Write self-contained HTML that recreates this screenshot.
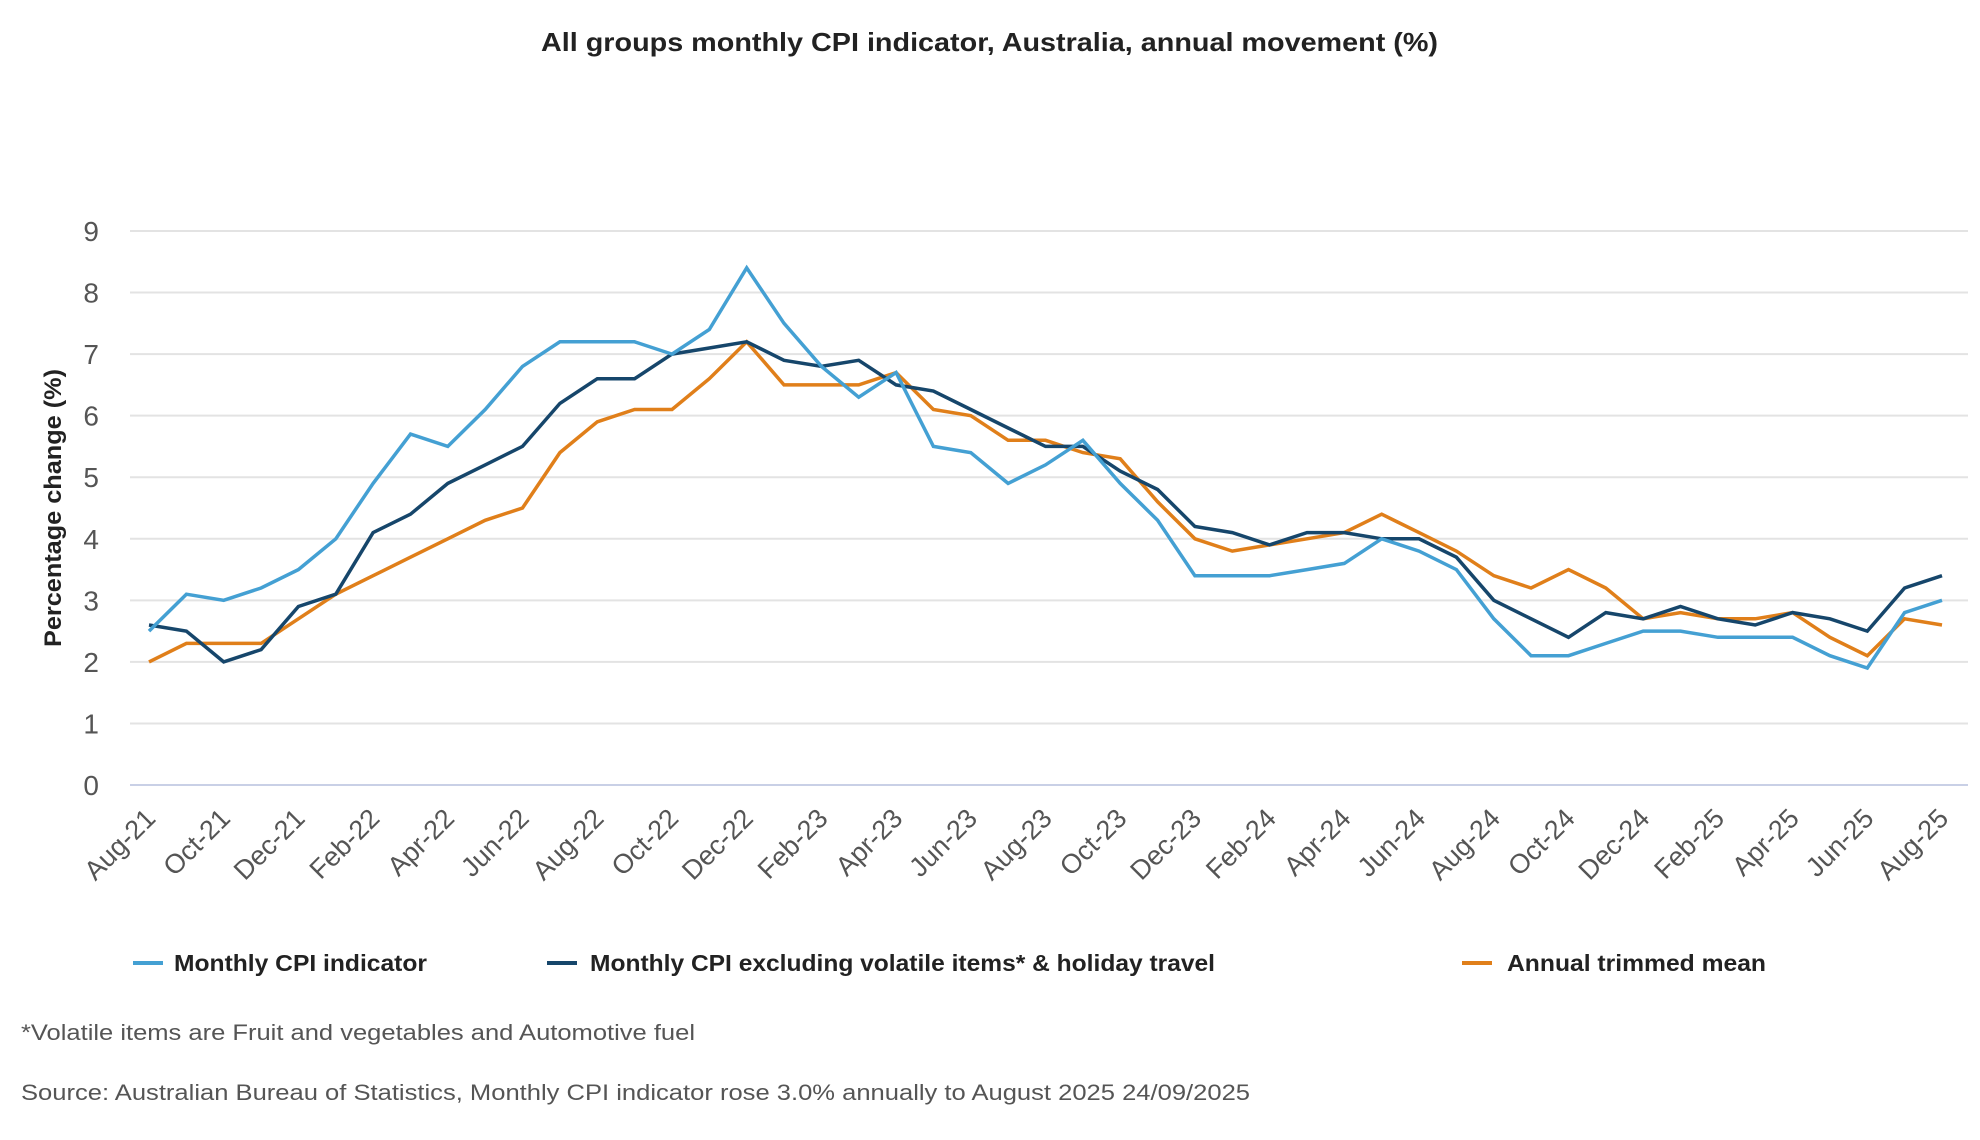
<!DOCTYPE html>
<html><head><meta charset="utf-8"><style>
html,body{margin:0;padding:0;background:#fff;}
svg{display:block;font-family:"Liberation Sans",sans-serif;}
</style></head><body>
<svg id="chart" width="1980" height="1140" viewBox="0 0 1980 1140" xmlns="http://www.w3.org/2000/svg">
<text x="541" y="51" font-size="26" font-weight="bold" fill="#222" textLength="897" lengthAdjust="spacingAndGlyphs">All groups monthly CPI indicator, Australia, annual movement (%)</text>
<g id="grid"></g>
<g id="yticks"></g>
<g id="xticks"></g>
<g id="lines"></g>
<text transform="translate(61,508) rotate(-90)" text-anchor="middle" font-size="24" font-weight="bold" fill="#222" textLength="278" lengthAdjust="spacingAndGlyphs">Percentage change (%)</text>
<g>
<g><rect x="133" y="961" width="30" height="4" fill="#44a0d3"/><text x="174" y="971" font-size="23" font-weight="bold" fill="#222" textLength="253" lengthAdjust="spacingAndGlyphs">Monthly CPI indicator</text></g>
<g><rect x="547" y="961" width="30" height="4" fill="#16466b"/><text x="590" y="971" font-size="23" font-weight="bold" fill="#222" textLength="625" lengthAdjust="spacingAndGlyphs">Monthly CPI excluding volatile items* &amp; holiday travel</text></g>
<g><rect x="1462" y="961" width="30" height="4" fill="#e07f1a"/><text x="1507" y="971" font-size="23" font-weight="bold" fill="#222" textLength="259" lengthAdjust="spacingAndGlyphs">Annual trimmed mean</text></g>
</g>
<text x="21" y="1040" font-size="22" fill="#555" textLength="674" lengthAdjust="spacingAndGlyphs">*Volatile items are Fruit and vegetables and Automotive fuel</text>
<text x="21" y="1100" font-size="22" fill="#555" textLength="1229" lengthAdjust="spacingAndGlyphs">Source: Australian Bureau of Statistics, Monthly CPI indicator rose 3.0% annually to August 2025 24/09/2025</text>
</svg>
<script>
const months = ["Aug-21","Sep-21","Oct-21","Nov-21","Dec-21","Jan-22","Feb-22","Mar-22","Apr-22","May-22","Jun-22","Jul-22","Aug-22","Sep-22","Oct-22","Nov-22","Dec-22","Jan-23","Feb-23","Mar-23","Apr-23","May-23","Jun-23","Jul-23","Aug-23","Sep-23","Oct-23","Nov-23","Dec-23","Jan-24","Feb-24","Mar-24","Apr-24","May-24","Jun-24","Jul-24","Aug-24","Sep-24","Oct-24","Nov-24","Dec-24","Jan-25","Feb-25","Mar-25","Apr-25","May-25","Jun-25","Jul-25","Aug-25"];
const monthlyCPI = [2.5,3.1,3.0,3.2,3.5,4.0,4.9,5.7,5.5,6.1,6.8,7.2,7.2,7.2,7.0,7.4,8.4,7.5,6.8,6.3,6.7,5.5,5.4,4.9,5.2,5.6,4.9,4.3,3.4,3.4,3.4,3.5,3.6,4.0,3.8,3.5,2.7,2.1,2.1,2.3,2.5,2.5,2.4,2.4,2.4,2.1,1.9,2.8,3.0];
const exVolatile = [2.6,2.5,2.0,2.2,2.9,3.1,4.1,4.4,4.9,5.2,5.5,6.2,6.6,6.6,7.0,7.1,7.2,6.9,6.8,6.9,6.5,6.4,6.1,5.8,5.5,5.5,5.1,4.8,4.2,4.1,3.9,4.1,4.1,4.0,4.0,3.7,3.0,2.7,2.4,2.8,2.7,2.9,2.7,2.6,2.8,2.7,2.5,3.2,3.4];
const trimmedMean = [2.0,2.3,2.3,2.3,2.7,3.1,3.4,3.7,4.0,4.3,4.5,5.4,5.9,6.1,6.1,6.6,7.2,6.5,6.5,6.5,6.7,6.1,6.0,5.6,5.6,5.4,5.3,4.6,4.0,3.8,3.9,4.0,4.1,4.4,4.1,3.8,3.4,3.2,3.5,3.2,2.7,2.8,2.7,2.7,2.8,2.4,2.1,2.7,2.6];
const yTicks = [0,1,2,3,4,5,6,7,8,9];

const NS="http://www.w3.org/2000/svg";
const X0=149, X1=1942, Y0=785, Y9=231, GL=130, GR=1968;
function xs(i){return X0+(X1-X0)*i/(months.length-1);}
function ys(v){return Y0-(Y0-Y9)*v/9;}
function mk(tag,attrs,parent){const e=document.createElementNS(NS,tag);for(const k in attrs)e.setAttribute(k,attrs[k]);parent.appendChild(e);return e;}
const grid=document.getElementById('grid'), yt=document.getElementById('yticks'), xt=document.getElementById('xticks'), lg=document.getElementById('lines');
yTicks.forEach(v=>{
  const l=mk('line',{x1:GL,x2:GR,y1:ys(v),y2:ys(v),stroke:v===0?'#c9d0e6':'#e3e3e3','stroke-width':2},grid);
  
  
  const t=mk('text',{x:99,y:ys(v)+10,'text-anchor':'end','font-size':28,fill:'#555'},yt);
  t.textContent=v;
  
  
});
months.forEach((m,i)=>{
  if(i%2!==0)return;
  const x=xs(i)+8, y=820;
  const t=mk('text',{x:x,y:y,'text-anchor':'end','font-size':27,fill:'#555',transform:`rotate(-45 ${x} ${y})`},xt);
  t.textContent=m;
  
  
});
function drawLine(vals,color,name){
  const d=vals.map((v,i)=>(i?'L':'M')+xs(i).toFixed(1)+' '+ys(v).toFixed(1)).join(' ');
  const p=mk('path',{d:d,fill:'none',stroke:color,'stroke-width':3.5,'stroke-linejoin':'miter'},lg);
  
  
}
drawLine(trimmedMean,'#e07f1a','line-trimmed-mean');
drawLine(exVolatile,'#16466b','line-excluding-volatile');
drawLine(monthlyCPI,'#44a0d3','line-monthly-cpi');
</script>
</body></html>
